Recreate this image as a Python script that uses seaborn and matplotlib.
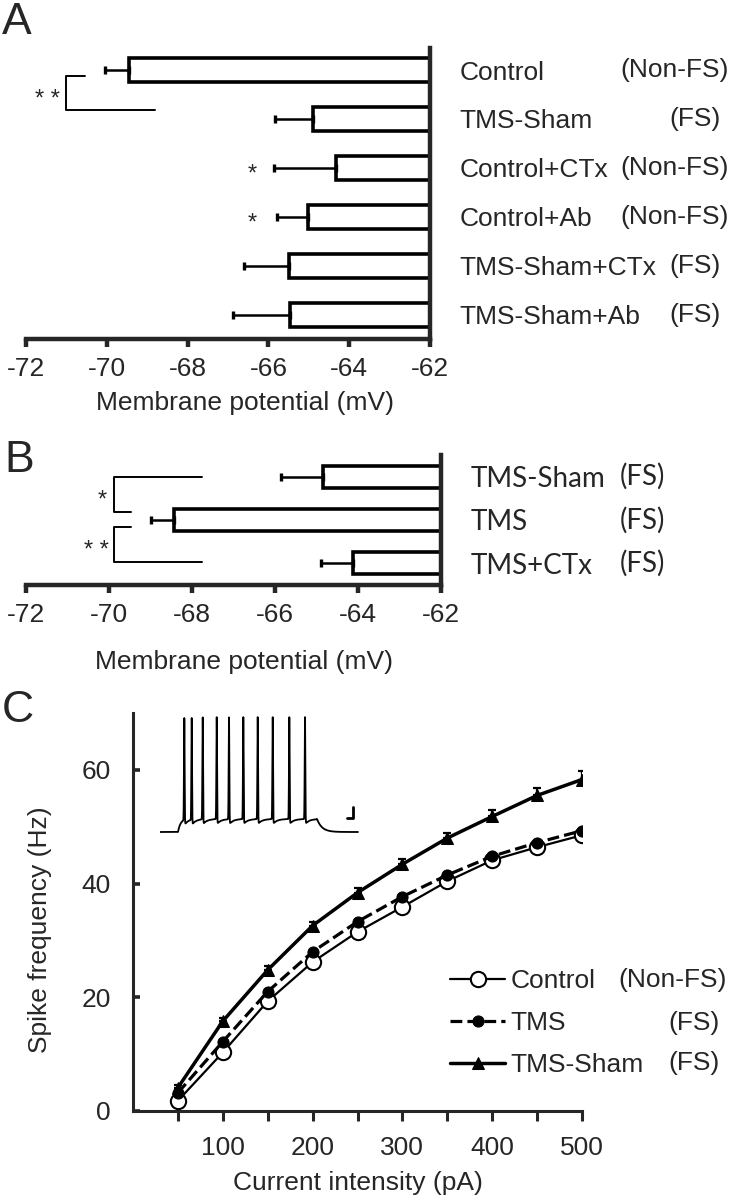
import numpy as np
import pandas as pd
import matplotlib.pyplot as plt
import seaborn as sns
from matplotlib.transforms import blended_transform_factory

W, H = 735, 1199

# Panel A: membrane potential (mV), mean and SEM
a_groups = ['Control', 'TMS-Sham', 'Control+CTx', 'Control+Ab', 'TMS-Sham+CTx', 'TMS-Sham+Ab']
a_types = ['(Non-FS)', '(FS)', '(Non-FS)', '(Non-FS)', '(FS)', '(FS)']
a_mean = [-69.45, -64.9, -64.33, -65.02, -65.5, -65.47]
a_sem = [0.6, 0.94, 1.53, 0.77, 1.1, 1.4]

# Panel B
b_groups = ['TMS-Sham', 'TMS', 'TMS+CTx']
b_types = ['(FS)', '(FS)', '(FS)']
b_mean = [-64.85, -68.43, -64.13]
b_sem = [1.0, 0.55, 0.75]

mv_ticks = [-72, -70, -68, -66, -64, -62]

# Panel C: spike frequency (Hz) vs injected current (pA)
current = [50, 100, 150, 200, 250, 300, 350, 400, 450, 500]
ctrl_hz = [1.8, 10.3, 19.3, 26.2, 31.5, 35.9, 40.4, 44.1, 46.4, 48.5]
tms_hz = [3.2, 12.2, 21.0, 28.0, 33.3, 37.7, 41.5, 44.8, 47.2, 49.3]
sham_hz = [4.1, 15.8, 24.8, 32.6, 38.4, 43.4, 48.0, 51.8, 55.5, 58.3]
sham_sem = [0.4, 0.6, 0.7, 0.7, 0.8, 0.9, 0.9, 1.1, 1.3, 1.5]
c_xticks = [50, 100, 150, 200, 250, 300, 350, 400, 450, 500]
c_xlabels = ['', '100', '', '200', '', '300', '', '400', '', '500']
c_yticks = [0, 20, 40, 60]

# inset trace: spike times (inset units)
spike_times = [24.3, 31.7, 42.7, 56.7, 69.0, 83.3, 97.7, 112.7, 129.3, 145.0]


def fx(px):
    return px / W


def fy(py):
    return 1 - py / H


sns.set_style('ticks')
plt.rcParams['font.family'] = ['Liberation Sans', 'DejaVu Sans']
plt.rcParams['axes.unicode_minus'] = False
FS = 19

fig = plt.figure(figsize=(W / 100, H / 100), dpi=100)


def bar_panel(ax, groups, means, sems, bar_w, label_font, label_size):
    sns.barplot(x=means, y=groups, orient='h', color='white', edgecolor='black',
                linewidth=2.6, width=bar_w, errorbar=None, ax=ax)
    pos = np.arange(len(groups))
    ax.errorbar(means, pos, xerr=[sems, np.zeros(len(sems))], fmt='none',
                ecolor='black', elinewidth=1.8, capsize=3, capthick=2.4, zorder=1)
    ax.set_xlim(-72, -62)
    ax.set_xticks(mv_ticks)
    ax.set_xticklabels([str(t) for t in mv_ticks], fontsize=FS)
    ax.yaxis.tick_right()
    ax.tick_params(axis='y', length=0, pad=21, labelsize=label_size)
    for lab in ax.get_yticklabels():
        lab.set_family(label_font)
    ax.tick_params(axis='x', direction='out', length=6, width=3.2, pad=7)
    ax.spines['left'].set_visible(False)
    ax.spines['top'].set_visible(False)
    ax.spines['right'].set_linewidth(3.2)
    ax.spines['bottom'].set_linewidth(3.2)
    ax.set_ylabel('')
    ax.set_xlabel('Membrane potential (mV)', fontsize=FS)


# ---- Panel A ----
axA = fig.add_axes([fx(26), fy(339), fx(404), 291 / H])
bar_panel(axA, a_groups, a_mean, a_sem, 0.49, ['Liberation Sans', 'DejaVu Sans'], FS)
axA.set_ylim(5.5, -0.45)
axA.xaxis.set_label_coords(0.542, -0.18)
trA = blended_transform_factory(fig.transFigure, axA.transData)
for i, t in enumerate(a_types):
    x = 620 if t == '(Non-FS)' else 669
    fig.text(fx(x), i, t, transform=trA, fontsize=FS, va='center', ha='left')
axA.plot([-70.54, -71.0, -71.0, -68.8], [0.12, 0.12, 0.82, 0.82], color='black', lw=1.4, clip_on=False)
axA.text(-71.48, 0.62, '* *', fontsize=17, ha='center', va='center')
for row in [2, 3]:
    axA.text(-66.4, row + 0.13, '*', fontsize=17, ha='center', va='center')

# ---- Panel B ----
axB = fig.add_axes([fx(26), fy(585), fx(415), 130 / H])
bar_panel(axB, b_groups, b_mean, b_sem, 0.51, ['Lato', 'DejaVu Sans'], 20)
axB.set_ylim(2.5, -0.5)
axB.xaxis.set_label_coords(0.525, -0.5)
trB = blended_transform_factory(fig.transFigure, axB.transData)
for i, t in enumerate(b_types):
    fig.text(fx(620), i, t, transform=trB, fontsize=20, va='center', ha='left',
             family=['Lato', 'DejaVu Sans'])
axB.plot([-67.75, -69.87, -69.87, -69.46], [0.0, 0.0, 0.81, 0.81], color='black', lw=1.4, clip_on=False)
axB.plot([-69.46, -69.87, -69.87, -67.75], [1.16, 1.16, 1.98, 1.98], color='black', lw=1.4, clip_on=False)
axB.text(-70.16, 0.55, '*', fontsize=17, ha='center', va='center')
axB.text(-70.3, 1.72, '* *', fontsize=17, ha='center', va='center')

# ---- Panel C ----
axC = fig.add_axes([fx(133), fy(1111), fx(449), 398 / H])
sns.lineplot(x=current, y=ctrl_hz, ax=axC, color='black', lw=1.6, marker='o', markersize=11,
             markerfacecolor='white', markeredgecolor='black', markeredgewidth=1.5,
             label='Control', zorder=3)
sns.lineplot(x=current, y=tms_hz, ax=axC, color='black', lw=2.3, linestyle='--', marker='o',
             markersize=8, markerfacecolor='black', markeredgecolor='black', label='TMS', zorder=4)
axC.errorbar(current, sham_hz, yerr=[np.zeros(len(sham_sem)), sham_sem], fmt='none',
             ecolor='black', elinewidth=1.6, capsize=3, capthick=1.6, zorder=2)
sns.lineplot(x=current, y=sham_hz, ax=axC, color='black', lw=2.5, marker='^', markersize=9,
             markerfacecolor='black', markeredgecolor='black', label='TMS-Sham', zorder=5)
axC.set_xlim(0, 500)
axC.set_ylim(0, 70)
axC.set_xticks(c_xticks)
axC.set_xticklabels(c_xlabels, fontsize=FS)
axC.set_yticks(c_yticks)
axC.set_yticklabels([str(t) for t in c_yticks], fontsize=FS)
axC.tick_params(axis='x', direction='out', length=7, width=2.2, pad=11)
axC.tick_params(axis='y', direction='in', length=5, width=2.6, pad=16)
axC.spines['top'].set_visible(False)
axC.spines['right'].set_visible(False)
axC.spines['left'].set_linewidth(2.2)
axC.spines['bottom'].set_linewidth(2.2)
axC.set_xlabel('Current intensity (pA)', fontsize=FS)
axC.set_ylabel('Spike frequency (Hz)', fontsize=FS)
axC.xaxis.set_label_coords(0.5, -0.15)
axC.yaxis.set_label_coords(-0.18, 0.455)
axC.legend(loc='upper left', bbox_to_anchor=(fx(450), fy(969)), bbox_transform=fig.transFigure,
           frameon=False, fontsize=FS, handlelength=2.1, handletextpad=0.2,
           labelspacing=0.68, borderpad=0, borderaxespad=0)
fig.text(fx(618), fy(980), '(Non-FS)', fontsize=FS, va='center', ha='left')
fig.text(fx(668), fy(1023), '(FS)', fontsize=FS, va='center', ha='left')
fig.text(fx(668), fy(1063), '(FS)', fontsize=FS, va='center', ha='left')

# inset: example firing trace
axI = fig.add_axes([fx(160), fy(835), fx(200), 123 / H])
t = np.linspace(0, 198, 6000)
v = np.full_like(t, 3.0)
on, off = 18.0, 157.0
v += 13 * (1 - np.exp(-np.clip(t - on, 0, None) / 2.5)) * (t >= on)
for ts in spike_times:
    v += 102 * np.exp(-((t - ts) / 0.45) ** 2)
    dt = t - ts - 0.6
    v -= 4.5 * np.exp(-np.clip(dt, 0, None) / 4) * (dt > 0) * (t < off)
plateau_end = v[np.searchsorted(t, off)] - 3
v = np.where(t > off, 3 + plateau_end * np.exp(-(t - off) / 5), v)
axI.plot(t, v, color='black', lw=1.3)
axI.plot([187, 193, 193], [17, 17, 28], color='black', lw=2)
axI.set_xlim(0, 200)
axI.set_ylim(0, 123)
axI.axis('off')

# panel letters
fig.text(fx(2), fy(22), 'A', fontsize=32, va='center', ha='left')
fig.text(fx(4), fy(460), 'B', fontsize=32, va='center', ha='left')
fig.text(fx(2), fy(710), 'C', fontsize=32, va='center', ha='left')

fig.savefig('out.png', dpi=100)
